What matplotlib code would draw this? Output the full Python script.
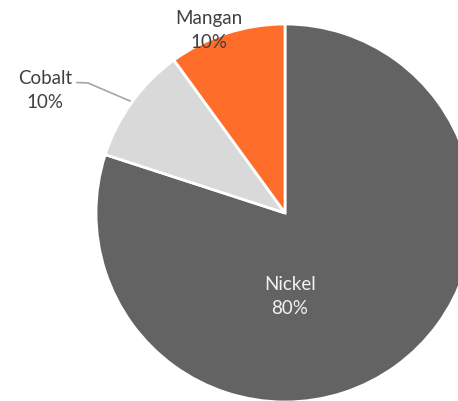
import matplotlib
matplotlib.use("Agg")
import matplotlib.pyplot as plt

labels = ["Nickel", "Cobalt", "Mangan"]
values = [80, 10, 10]
colors = ["#636363", "#d9d9d9", "#ff6d2b"]

W, H = 458, 401
dpi = 100
cx, cy, R = 285, 213, 189  # pixel layout

fig = plt.figure(figsize=(W / dpi, H / dpi), dpi=dpi)
ax = fig.add_axes([0, 0, 1, 1])

ax.pie(values, colors=colors, startangle=90, counterclock=False,
       radius=1.0, center=(0, 0), frame=True,
       wedgeprops=dict(edgecolor="white", linewidth=2))
ax.set_aspect("auto")
ax.set_xlim(-cx / R, (W - cx) / R)
ax.set_ylim(-(H - cy) / R, cy / R)
ax.axis("off")

font = "Lato"
fs = 13.5
ls = 1.5
pct = [f"{v}%" for v in values]

def px(x, y):
    return ((x - cx) / R, (cy - y) / R)

# Nickel label (inside)
ax.text(*px(290, 296), f"{labels[0]}\n{pct[0]}", ha="center", va="center",
        color="#f2f2f2", fontsize=fs, family=font, linespacing=ls)
# Mangan label
ax.text(*px(209, 30), f"{labels[2]}\n{pct[2]}", ha="center", va="center",
        color="#404040", fontsize=fs, family=font, linespacing=ls)
# Cobalt label with leader line
ax.text(*px(45, 90), f"{labels[1]}\n{pct[1]}", ha="center", va="center",
        color="#404040", fontsize=fs, family=font, linespacing=ls)
lx, ly = zip(px(77, 82.5), px(88, 83), px(130, 101))
ax.plot(lx, ly, color="#a6a6a6", lw=1.2)

fig.savefig("out.png", dpi=dpi)
